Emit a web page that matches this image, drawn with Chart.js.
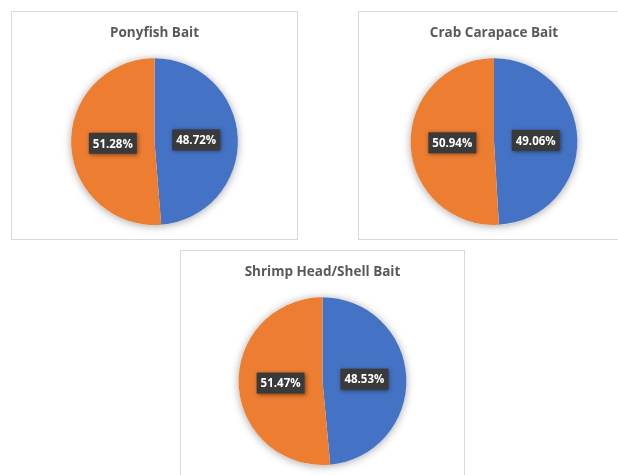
<!DOCTYPE html>
<html>
<head>
<meta charset="utf-8">
<script src="https://cdn.jsdelivr.net/npm/chart.js@4"></script>
<style>
  html, body { margin: 0; padding: 0; background: #fff; overflow: hidden; }
  body { width: 618px; height: 475px; position: relative; }
  .box { position: absolute; border: 1px solid #d9d9d9; background: #fff; box-sizing: border-box; }
  .box canvas { display: block; }
</style>
</head>
<body>
<div class="box" id="box1" style="left:11px; top:11px; width:287px; height:229px;"><canvas id="pie1"></canvas></div>
<div class="box" id="box2" style="left:358px; top:11px; width:272px; height:229px;"><canvas id="pie2"></canvas></div>
<div class="box" id="box3" style="left:180px; top:250px; width:285px; height:230px;"><canvas id="pie3"></canvas></div>
<script>
// chart data
const chartTitles = ["Ponyfish Bait", "Crab Carapace Bait", "Shrimp Head/Shell Bait"];
const sliceLabels = ["Series A", "Series B"];
const ponyfishValues = [48.72, 51.28];
const crabValues = [49.06, 50.94];
const shrimpValues = [48.53, 51.47];
const sliceColors = ["#4472C4", "#ED7D31"];

// soft shadow behind the pie, like the excel one
const pieShadow = {
  id: 'pieShadow',
  beforeDatasetsDraw(chart) {
    const arc = chart.getDatasetMeta(0).data[0];
    if (!arc) return;
    const ctx = chart.ctx;
    ctx.save();
    ctx.shadowColor = 'rgba(0,0,0,0.35)';
    ctx.shadowBlur = 9;
    ctx.shadowOffsetY = 1;
    ctx.fillStyle = '#fff';
    ctx.beginPath();
    ctx.arc(arc.x, arc.y, arc.outerRadius, 0, Math.PI * 2);
    ctx.fill();
    ctx.restore();
  }
};

// dark boxed percentage labels
const boxLabels = {
  id: 'boxLabels',
  afterDatasetsDraw(chart) {
    const ctx = chart.ctx;
    const vals = chart.data.datasets[0].data;
    chart.getDatasetMeta(0).data.forEach((arc, i) => {
      const p = arc.tooltipPosition();
      const txt = vals[i].toFixed(2) + '%';
      ctx.save();
      ctx.font = 'bold 11.5px "Open Sans", sans-serif';
      const w = ctx.measureText(txt).width + 8;
      const h = 21;
      ctx.shadowColor = 'rgba(0,0,0,0.45)';
      ctx.shadowBlur = 4;
      ctx.shadowOffsetX = 1;
      ctx.shadowOffsetY = 1;
      ctx.fillStyle = '#3a3a3a';
      ctx.fillRect(p.x - w / 2, p.y - h / 2, w, h);
      ctx.shadowColor = 'transparent';
      ctx.fillStyle = '#fff';
      ctx.textAlign = 'center';
      ctx.textBaseline = 'middle';
      ctx.fillText(txt, p.x, p.y + 1);
      ctx.restore();
    });
  }
};

function makePie(canvasId, title, values) {
  const cv = document.getElementById(canvasId);
  const box = cv.parentNode;
  cv.width = box.clientWidth;
  cv.height = box.clientHeight;
  return new Chart(cv, {
    type: 'pie',
    data: {
      labels: sliceLabels,
      datasets: [{
        data: values,
        backgroundColor: sliceColors,
        borderWidth: 0
      }]
    },
    options: {
      responsive: false,
      animation: false,
      layout: { padding: { top: 0, bottom: 14, left: 0, right: 0 } },
      plugins: {
        legend: { display: false },
        tooltip: { enabled: false },
        title: {
          display: true,
          text: title,
          color: '#595959',
          font: { family: '"Open Sans", sans-serif', size: 13.5, weight: 'bold' },
          padding: { top: 13, bottom: 17 }
        }
      }
    },
    plugins: [pieShadow, boxLabels]
  });
}

makePie('pie1', chartTitles[0], ponyfishValues);
makePie('pie2', chartTitles[1], crabValues);
makePie('pie3', chartTitles[2], shrimpValues);
</script>
</body>
</html>
